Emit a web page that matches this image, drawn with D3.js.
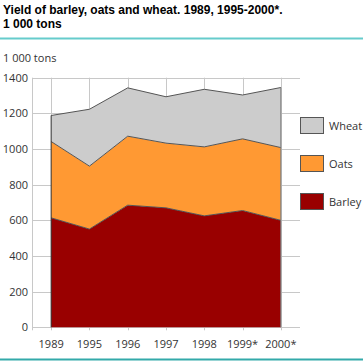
<!DOCTYPE html>
<html>
<head>
<meta charset="utf-8">
<script src="https://cdn.jsdelivr.net/npm/d3@7"></script>
<style>
  body { margin: 0; background: #fff; }
  svg { display: block; font-family: "Open Sans", "Noto Sans", sans-serif; }
</style>
</head>
<body>
<svg class="vis" width="363" height="361"></svg>
<script>
const years = ['1989', '1995', '1996', '1997', '1998', '1999*', '2000*'];
const barley = [614, 551, 685, 670, 625, 655, 600];
const oats = [428, 353, 387, 363, 387, 402, 408];
const wheat = [146, 319, 271, 260, 323, 246, 337];
const yTicks = [0, 200, 400, 600, 800, 1000, 1200, 1400];

const series = [
  { name: 'Barley', values: barley, color: '#990000' },
  { name: 'Oats', values: oats, color: '#ff9933' },
  { name: 'Wheat', values: wheat, color: '#cccccc' }
];

const rows = years.map((y, i) => {
  const r = { year: y };
  series.forEach(s => { r[s.name] = s.values[i]; });
  return r;
});

const svg = d3.select('svg.vis');
const plot = { left: 32, right: 300, top: 77.7, bottom: 327.3 };

const x = d3.scalePoint().domain(years).range([plot.left, plot.right]).padding(0.5);
const y = d3.scaleLinear().domain([0, 1400]).range([plot.bottom, plot.top]);

// title, two lines
svg.selectAll('text.title')
  .data(['Yield of barley, oats and wheat. 1989, 1995-2000*.', '1 000 tons'])
  .join('text').attr('class', 'title')
  .attr('x', 3).attr('y', (d, i) => 14 + i * 14)
  .attr('font-family', '"Liberation Sans", Arial, sans-serif')
  .attr('font-weight', 'bold').attr('font-size', 12).attr('fill', '#000')
  .text(d => d);

svg.append('line').attr('x1', 0).attr('x2', 363).attr('y1', 38.5).attr('y2', 38.5)
  .attr('stroke', '#66cccc').attr('stroke-width', 2);
svg.append('line').attr('x1', 0).attr('x2', 363).attr('y1', 359.5).attr('y2', 359.5)
  .attr('stroke', '#33aaaa').attr('stroke-width', 2);

svg.append('text').attr('x', 3).attr('y', 62).attr('font-size', 11).attr('fill', '#333').text('1 000 tons');

// grid
const grid = svg.append('g').attr('stroke', '#c8c8c8').attr('stroke-width', 1);
grid.selectAll('line.h').data(yTicks).join('line').attr('class', 'h')
  .attr('x1', plot.left).attr('x2', plot.right)
  .attr('y1', d => Math.round(y(d)) + 0.5).attr('y2', d => Math.round(y(d)) + 0.5);
grid.selectAll('line.v').data([null].concat(years)).join('line').attr('class', 'v')
  .attr('x1', d => d === null ? plot.left + 0.5 : Math.round(x(d)) + 0.5)
  .attr('x2', d => d === null ? plot.left + 0.5 : Math.round(x(d)) + 0.5)
  .attr('y1', plot.top).attr('y2', plot.bottom + 3);

// stacked areas
const stack = d3.stack().keys(series.map(s => s.name));
const layers = stack(rows);
const area = d3.area()
  .x(d => x(d.data.year))
  .y0(d => y(d[0]))
  .y1(d => y(d[1]));
const line = d3.line().x(d => x(d.data.year)).y(d => y(d[1]));

svg.append('g').selectAll('path.area').data(layers).join('path')
  .attr('class', 'area')
  .attr('fill', (d, i) => series[i].color)
  .attr('d', area);
svg.append('g').selectAll('path.top').data(layers).join('path')
  .attr('fill', 'none').attr('stroke', '#555').attr('stroke-width', 1)
  .attr('d', line);
svg.append('line')
  .attr('x1', x(years[0])).attr('x2', x(years[0]))
  .attr('y1', y(0)).attr('y2', y(d3.sum(series, s => s.values[0])))
  .attr('stroke', '#333');
svg.append('line')
  .attr('x1', x(years[6])).attr('x2', x(years[6]))
  .attr('y1', y(0)).attr('y2', y(d3.sum(series, s => s.values[6])))
  .attr('stroke', '#777');

// y labels
svg.append('g').selectAll('text').data(yTicks).join('text')
  .attr('x', 28).attr('y', d => y(d) + 4)
  .attr('text-anchor', 'end').attr('font-size', 11).attr('fill', '#333')
  .text(d => d);

// x labels
svg.append('g').selectAll('text').data(years).join('text')
  .attr('x', d => x(d)).attr('y', 348)
  .attr('text-anchor', 'middle').attr('font-size', 11).attr('fill', '#333')
  .text(d => d);

// legend
const legend = svg.append('g');
const legendItems = series.slice().reverse();
legend.selectAll('rect').data(legendItems).join('rect')
  .attr('x', 300.5).attr('y', (d, i) => 117.5 + i * 38)
  .attr('width', 23).attr('height', 16)
  .attr('fill', d => d.color).attr('stroke', '#555');
legend.selectAll('text').data(legendItems).join('text')
  .attr('x', 329).attr('y', (d, i) => 130 + i * 38)
  .attr('font-size', 11).attr('fill', '#333')
  .text(d => d.name);
</script>
</body>
</html>
